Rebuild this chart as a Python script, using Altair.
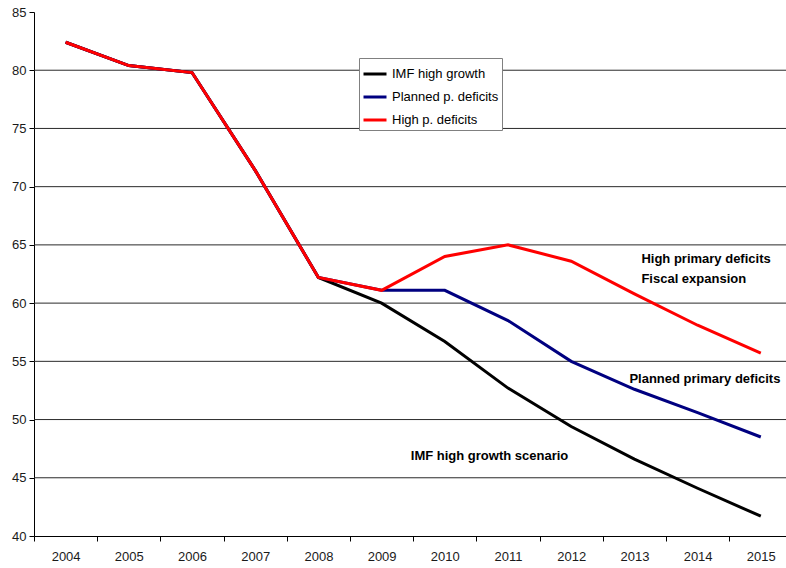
import altair as alt
import pandas as pd

# Public debt ratio scenarios, 2004-2015
years = [str(y) for y in range(2004, 2016)]
imf_high_growth = [82.4, 80.4, 79.8, 71.4, 62.2, 60.0, 56.7, 52.7, 49.4, 46.6, 44.1, 41.7]
planned_deficits = [82.4, 80.4, 79.8, 71.4, 62.2, 61.1, 61.1, 58.5, 55.0, 52.6, 50.6, 48.5]
high_deficits = [82.4, 80.4, 79.8, 71.4, 62.2, 61.1, 64.0, 65.0, 63.6, 60.8, 58.1, 55.7]

series_names = ["IMF high growth", "Planned p. deficits", "High p. deficits"]
series_colors = ["#000000", "#000080", "#ff0000"]

y_ticks = [40, 45, 50, 55, 60, 65, 70, 75, 80, 85]
grid_values = [45, 50, 55, 60, 65, 70, 75, 80]

# Scenario annotations placed next to their lines
note_texts = ["High primary deficits", "Fiscal expansion", "Planned primary deficits", "IMF high growth scenario"]
note_years = ["2013", "2013", "2013", "2010"]
note_values = [63.8, 62.1, 53.5, 46.9]
note_shift = [7, 7, -5, -34]

FONT = "Liberation Sans"

rows = []
for name, vals in zip(series_names, [imf_high_growth, planned_deficits, high_deficits]):
    for yr, v in zip(years, vals):
        rows.append({"year": yr, "value": v, "series": name})
lines_df = pd.DataFrame(rows)
grid_df = pd.DataFrame({"value": grid_values})

x_scale = alt.Scale(type="band", domain=years, range=[0, 758.4], paddingInner=0, paddingOuter=0)
y_scale = alt.Scale(domain=[40, 85], nice=False, zero=False)

x_enc = alt.X(
    "year:O",
    bandPosition=0.5,
    scale=x_scale,
    axis=alt.Axis(
        title=None, labelAngle=0, tickBand="extent", tickSize=5, labelPadding=9,
        domainColor="black", tickColor="black", labelFontSize=13, grid=False,
    ),
)
y_enc = alt.Y(
    "value:Q",
    scale=y_scale,
    axis=alt.Axis(
        values=y_ticks, title=None, grid=False, tickSize=5, labelPadding=3,
        domainColor="black", tickColor="black", labelFontSize=13,
    ),
)

grid = alt.Chart(grid_df).mark_rule(color="#2a2a2a", strokeWidth=1).encode(
    y=alt.Y("value:Q", scale=y_scale)
)

lines = alt.Chart(lines_df).mark_line(strokeWidth=3).encode(
    x=x_enc,
    y=y_enc,
    color=alt.Color(
        "series:N",
        scale=alt.Scale(domain=series_names, range=series_colors),
        legend=alt.Legend(
            title=None, orient="none", legendX=325, legendY=46,
            symbolType="stroke", symbolSize=529, symbolStrokeWidth=3,
            labelFontSize=13, labelFont=FONT, labelColor="#000000", labelOffset=4,
            fillColor="white", strokeColor="#808080", padding=3, rowPadding=3,
        ),
    ),
)

note_layers = []
for shift in sorted(set(note_shift)):
    sub = pd.DataFrame({
        "year": [y for y, s in zip(note_years, note_shift) if s == shift],
        "value": [v for v, s in zip(note_values, note_shift) if s == shift],
        "label": [t for t, s in zip(note_texts, note_shift) if s == shift],
    })
    note_layers.append(
        alt.Chart(sub).mark_text(
            align="left", baseline="middle", dx=shift, font=FONT,
            fontWeight="bold", fontSize=13, color="#000000",
        ).encode(
            x=alt.X("year:O", bandPosition=0.5, scale=x_scale),
            y=alt.Y("value:Q", scale=y_scale),
            text="label:N",
        )
    )

chart = alt.layer(grid, lines, *note_layers).properties(
    width=752,
    height=524,
    autosize=alt.AutoSizeParams(type="none"),
    padding={"left": 34, "top": 12, "right": 0, "bottom": 32},
).configure_view(stroke=None).configure_axis(
    labelFont=FONT, labelColor="#1a1a1a"
)

chart.save("out.html", embed_options={"renderer": "svg", "actions": False})
